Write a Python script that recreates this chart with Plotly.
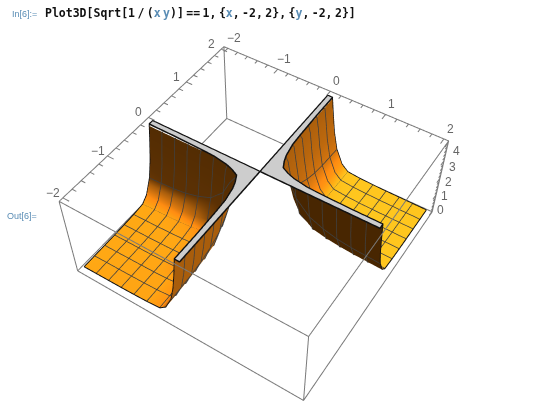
import numpy as np
import plotly.graph_objects as go

# Distances from the axes at which the surface heights were read (same for both axes)
sheet_coord = [2, 1.75, 1.5, 1.25, 1, 0.75, 0.5, 0.375, 0.25, 0.177, 0.125, 0.0884, 0.0625, 0.0442, 0.03125]
# Heights of the sheet; the plot is clipped at z = 4
sheet_z = [
    [.10, .11, .12, .13, .15, .18, .25, .55, 1.30, 2.20, 3.20, 4, 4, 4, 4],
    [.11, .12, .13, .14, .16, .19, .27, .58, 1.35, 2.30, 3.30, 4, 4, 4, 4],
    [.12, .13, .14, .15, .17, .21, .29, .62, 1.40, 2.40, 3.40, 4, 4, 4, 4],
    [.13, .14, .15, .16, .19, .24, .33, .68, 1.50, 2.55, 3.60, 4, 4, 4, 4],
    [.15, .16, .17, .19, .22, .28, .40, .78, 1.70, 2.80, 3.80, 4, 4, 4, 4],
    [.18, .19, .21, .24, .28, .36, .55, .95, 2.00, 3.10, 3.95, 4, 4, 4, 4],
    [.25, .27, .29, .33, .40, .55, .95, 1.50, 2.70, 3.70, 4, 4, 4, 4, 4],
    [.55, .58, .62, .68, .78, .95, 1.50, 2.20, 3.40, 4, 4, 4, 4, 4, 4],
    [1.30, 1.35, 1.40, 1.50, 1.70, 2.00, 2.70, 3.40, 4, 4, 4, 4, 4, 4, 4],
    [2.20, 2.30, 2.40, 2.55, 2.80, 3.10, 3.70, 4, 4, 4, 4, 4, 4, 4, 4],
    [3.20, 3.30, 3.40, 3.60, 3.80, 3.95, 4, 4, 4, 4, 4, 4, 4, 4, 4],
    [4, 4, 4, 4, 4, 4, 4, 4, 4, 4, 4, 4, 4, 4, 4],
    [4, 4, 4, 4, 4, 4, 4, 4, 4, 4, 4, 4, 4, 4, 4],
    [4, 4, 4, 4, 4, 4, 4, 4, 4, 4, 4, 4, 4, 4, 4],
    [4, 4, 4, 4, 4, 4, 4, 4, 4, 4, 4, 4, 4, 4, 4],
]
# Outline of the clipped (grey) top of each sheet
cap_p = [2, 1.5, 1, 0.75, 0.5, 0.375, 0.25, 0.19, 0.15, 0.11, 0.1, 0.09, 0.09]
cap_q = [0.09, 0.09, 0.1, 0.11, 0.15, 0.19, 0.25, 0.375, 0.5, 0.75, 1, 1.5, 2]
# Mesh lines drawn on the sheets
mesh_at = [1.75, 1.5, 1.25, 1, 0.75, 0.5, 0.25]

tick_major = [-2, -1, 0, 1, 2]
tick_labels = ["\u22122", "\u22121", "0", "1", "2"]
z_major = [0, 1, 2, 3, 4]
z_labels = ["0", "1", "2", "3", "4"]

# Box limits: the data range with Mathematica's 2% padding
X0, X1, Z0, Z1 = -2.08, 2.08, -0.08, 4.08
CLIP = 4
minor_xy = np.arange(-2, 2.01, 0.2)
minor_z = np.arange(0, 4.01, 0.2)

# The plot is laid out taller than the window so that the fixed field of view gives
# the weak perspective of the reference; the page is shifted up by SHIFT.
PAGE_W, PAGE_H, SHIFT = 542, 714, 150
EYE = dict(x=1.139, y=-1.755, z=2.42)
BOX_COLOR = "#7a7a7a"
TEXT_COLOR = "#666666"
FLAT = dict(ambient=1, diffuse=0, specular=0, roughness=1, fresnel=0)
COLORSCALE = [[0, "#3f2200"], [0.2, "#5c3104"], [0.35, "#a85d0c"], [0.6, "#ff8c12"],
              [0.8, "#ffa814"], [1, "#ffc61e"]]


# p = distance from the x axis along y, q = distance along x
def left_colour(p, q, z):
    if q >= p:
        return float(np.interp(z, [0.25, 0.5, 0.9, 1.4, 4], [0.8, 0.62, 0.3, 0.2, 0.14]))
    return 0.35 if z > 0.35 else (0.66 if z > 0.22 else 0.78)


def right_colour(p, q, z):
    if q < p:
        return float(np.interp(z, [0.25, 0.5, 1, 2, 4], [1, 0.72, 0.5, 0.42, 0.36]))
    return 0.06 if z > 0.28 else 1.0


coord = np.array(sheet_coord)
zz = np.array(sheet_z)
zdraw = np.minimum(zz, CLIP - 0.08)
# open the sheet under the grey top, away from its rim
capped = zz >= CLIP
n_c = len(coord)
for r in range(n_c):
    for c in range(n_c):
        if capped[max(r - 1, 0):r + 2, max(c - 1, 0):c + 2].all():
            zdraw[r, c] = np.nan
grid_q, grid_p = np.meshgrid(coord, coord)   # columns follow x (q), rows follow y (p)
left_c = np.vectorize(left_colour, otypes=[float])(grid_p, grid_q, zz)
right_c = np.vectorize(right_colour, otypes=[float])(grid_p, grid_q, zz)

fig = go.Figure()
fig.add_trace(go.Surface(x=-coord, y=-coord, z=zdraw, surfacecolor=left_c, cmin=0, cmax=1,
                         colorscale=COLORSCALE, showscale=False, lighting=FLAT, hoverinfo="skip"))
fig.add_trace(go.Surface(x=coord[::-1], y=coord[::-1], z=zdraw[::-1, ::-1],
                         surfacecolor=right_c[::-1, ::-1], cmin=0, cmax=1,
                         colorscale=COLORSCALE, showscale=False, lighting=FLAT, hoverinfo="skip"))

for sign in (-1, 1):
    # mesh lines along x and along y, running up to the grey top
    mx, my, mz = [], [], []
    for m in mesh_at:
        r = sheet_coord.index(m)
        stop = int(np.argmax(zz[r] >= CLIP)) + 1
        a = list(sign * coord[:stop]); b = [sign * m] * stop; h = list(zdraw[r, :stop])
        mx += a + [None]; my += b + [None]; mz += h + [None]
        my += a + [None]; mx += b + [None]; mz += h + [None]
    fig.add_trace(go.Scatter3d(x=mx, y=my, z=mz, mode="lines", line=dict(color="#3f3f3f", width=3),
                               hoverinfo="skip", showlegend=False))
    py = sign * np.array([0, 2] + cap_p + [0])
    px = sign * np.array([0, 0] + cap_q + [2])
    n = len(px)
    fig.add_trace(go.Mesh3d(x=px, y=py, z=[CLIP] * n,
                            i=[0] * (n - 2), j=list(range(1, n - 1)), k=list(range(2, n)),
                            color="#cdcdcd", lighting=FLAT, flatshading=True, hoverinfo="skip"))
    # black outline of the clipped top
    lx = np.append(px, 0.0)
    ly = np.append(py, 0.0)
    fig.add_trace(go.Scatter3d(x=lx, y=ly, z=[CLIP + 0.01] * len(lx), mode="lines",
                               line=dict(color="#111111", width=3), hoverinfo="skip", showlegend=False))
    # outer edges of the sheet
    edge_a = np.minimum(zz[0, :], CLIP)
    fig.add_trace(go.Scatter3d(x=sign * coord, y=sign * np.full(n_c, 2.0), z=edge_a + 0.01, mode="lines",
                               line=dict(color="#111111", width=2), hoverinfo="skip", showlegend=False))
    fig.add_trace(go.Scatter3d(x=sign * np.full(n_c, 2.0), y=sign * coord, z=edge_a + 0.01, mode="lines",
                               line=dict(color="#111111", width=2), hoverinfo="skip", showlegend=False))

# Bounding box
ex, ey, ez = [], [], []
corners = [(X0, X0), (X1, X0), (X1, X1), (X0, X1), (X0, X0)]
for z in (Z0, Z1):
    for (a, b) in corners:
        ex.append(a); ey.append(b); ez.append(z)
    ex.append(None); ey.append(None); ez.append(None)
for (a, b) in corners[:4]:
    ex += [a, a, None]; ey += [b, b, None]; ez += [Z0, Z1, None]
fig.add_trace(go.Scatter3d(x=ex, y=ey, z=ez, mode="lines", line=dict(color=BOX_COLOR, width=2),
                           hoverinfo="skip", showlegend=False))

# Ticks
tx, ty, tz = [], [], []
for t in minor_xy:
    L = 0.12 if abs(t - round(t)) < 1e-6 else 0.08
    tx += [X0, X0 + L, None]; ty += [t, t, None]; tz += [Z1, Z1, None]
    tx += [t, t, None]; ty += [X1, X1 - L, None]; tz += [Z1, Z1, None]
for t in minor_z:
    L = 0.12 if abs(t - round(t)) < 1e-6 else 0.08
    tx += [X1, X1, None]; ty += [X1, X1 - L, None]; tz += [t, t, None]
fig.add_trace(go.Scatter3d(x=tx, y=ty, z=tz, mode="lines", line=dict(color=BOX_COLOR, width=2),
                           hoverinfo="skip", showlegend=False))

# Tick labels, as real text anchored to the axes
label_font = dict(family="Liberation Sans", size=12, color=TEXT_COLOR)
scene_notes = []
for v, s in zip(tick_major, tick_labels):
    scene_notes.append(dict(x=X0, y=v, z=Z1, text=s, showarrow=False, xshift=-10, yshift=5, font=label_font))
    scene_notes.append(dict(x=v, y=X1, z=Z1, text=s, showarrow=False, xshift=6, yshift=10, font=label_font))
for v, s in zip(z_major, z_labels):
    scene_notes.append(dict(x=X1, y=X1, z=v, text=s, showarrow=False, xshift=8, yshift=1 - 2.5 * v, font=label_font))

hidden = dict(visible=False)
fig.update_layout(
    width=PAGE_W, height=PAGE_H, margin=dict(l=0, r=0, t=0, b=0),
    paper_bgcolor="white", showlegend=False,
    scene=dict(
        domain=dict(x=[0, 0.96], y=[0, 1]),
        xaxis=dict(range=[X0 - 0.01, X1 + 0.01], **hidden),
        yaxis=dict(range=[X0 - 0.01, X1 + 0.01], **hidden),
        zaxis=dict(range=[Z0 - 0.01, Z1 + 0.01], **hidden),
        aspectmode="manual", aspectratio=dict(x=1, y=1, z=0.4),
        camera=dict(eye=EYE, up=dict(x=0, y=0, z=1), center=dict(x=0, y=0, z=0),
                    projection=dict(type="perspective")),
        bgcolor="white",
        annotations=scene_notes,
    ),
)

BLUE = "#5a8db5"
MONO = "DejaVu Sans Mono"
thin = '<span style="font-size:4px"> </span>'
code = ('<b>Plot3D[Sqrt[1' + thin + '/' + thin + '(<span style="color:' + BLUE + '">x' + thin + 'y</span>)]'
        + thin + '==' + thin + '1,' + thin + '{<span style="color:' + BLUE + '">x</span>,' + thin + '-2,' + thin + '2},'
        + thin + '{<span style="color:' + BLUE + '">y</span>,' + thin + '-2,' + thin + '2}]</b>')


def page_y(px):
    return 1 - (px + SHIFT) / PAGE_H


fig.add_annotation(x=43 / PAGE_W, y=page_y(13), xref="paper", yref="paper", xanchor="left", yanchor="middle",
                   text=code, showarrow=False, font=dict(family=MONO, size=11.5, color="#111111"))
fig.add_annotation(x=10 / PAGE_W, y=page_y(14), xref="paper", yref="paper", xanchor="left", yanchor="middle",
                   text="In[6]:=", showarrow=False, font=dict(family="Liberation Sans", size=9, color=BLUE))
fig.add_annotation(x=5 / PAGE_W, y=page_y(216), xref="paper", yref="paper", xanchor="left", yanchor="middle",
                   text="Out[6]=", showarrow=False, font=dict(family="Liberation Sans", size=9, color=BLUE))

post = ("var g=document.getElementById('{plot_id}');"
        "document.documentElement.style.overflow='hidden';"
        "document.body.style.overflow='hidden';document.body.style.margin='0';"
        "g.style.position='absolute';g.style.left='0';g.style.top='-" + str(SHIFT) + "px';")
fig.write_html("out.html", post_script=post)
